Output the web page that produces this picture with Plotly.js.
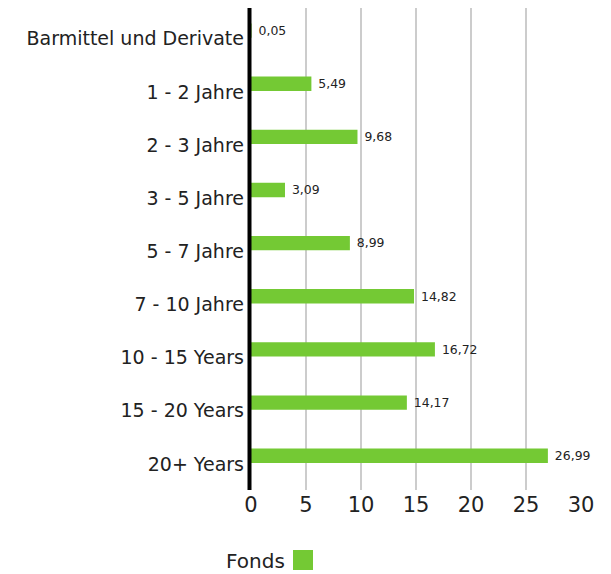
<!DOCTYPE html>
<html>
<head>
<meta charset="utf-8">
<script src="https://cdn.plot.ly/plotly-3.0.1.min.js"></script>
<style>html,body{margin:0;padding:0;background:#fff}#chart{width:611px;height:574px}</style>
</head>
<body>
<div id="chart"></div>
<script>
const categories = ["Barmittel und Derivate", "1 - 2 Jahre", "2 - 3 Jahre", "3 - 5 Jahre", "5 - 7 Jahre", "7 - 10 Jahre", "10 - 15 Years", "15 - 20 Years", "20+ Years"];
const fondsValues = [0.05, 5.49, 9.68, 3.09, 8.99, 14.82, 16.72, 14.17, 26.99];
const xTicks = [0, 5, 10, 15, 20, 25, 30];
const seriesName = "Fonds";
const green = "#74c934";
const FONT = "'DejaVu Sans', Inter, sans-serif";

const trace = {
  type: "bar",
  orientation: "h",
  y: categories,
  x: fondsValues,
  name: seriesName,
  marker: {color: green},
  width: 0.27,
  offset: -0.29,
  text: fondsValues.map(v => "\u00a0" + v.toFixed(2).replace(".", ",")),
  textposition: "outside",
  textfont: {family: FONT, size: 13, color: "#222"},
  cliponaxis: false,
  hoverinfo: "skip",
  showlegend: false
};

const layout = {
  width: 611, height: 574,
  margin: {l: 251, r: 30, t: 8, b: 84},
  paper_bgcolor: "#fff", plot_bgcolor: "#fff",
  separators: ",.",
  font: {family: FONT, color: "#222"},
  xaxis: {
    range: [0, 30],
    tickvals: xTicks,
    ticktext: xTicks.map(String),
    showgrid: true, gridcolor: "#cccccc", gridwidth: 2,
    zeroline: false, showline: false, ticks: "",
    tickfont: {size: 21, color: "#222"},
    fixedrange: true
  },
  yaxis: {
    type: "category",
    categoryorder: "array", categoryarray: categories,
    range: [8.49, -0.58],
    showgrid: false, zeroline: false, showline: false, ticks: "",
    tickfont: {size: 19, color: "#222"},
    ticklabelstandoff: 6,
    fixedrange: true
  },
  shapes: [
    {type: "line", xref: "paper", yref: "paper", x0: -1.5/330, x1: -1.5/330, y0: 0, y1: 1, line: {color: "#000", width: 4}, layer: "above"},
    {type: "rect", xref: "paper", yref: "paper", x0: (293-251)/330, x1: (313-251)/330, y0: (574-570-84)/482, y1: (574-550-84)/482, fillcolor: green, line: {width: 0}}
  ],
  annotations: [
    {xref: "paper", yref: "paper", x: (287-251)/330, y: (574-561-84)/482, xanchor: "right", yanchor: "middle", text: seriesName, showarrow: false, font: {family: FONT, size: 20, color: "#222"}}
  ],
  showlegend: false
};

Plotly.newPlot("chart", [trace], layout, {displayModeBar: false, staticPlot: true});
</script>
</body>
</html>
